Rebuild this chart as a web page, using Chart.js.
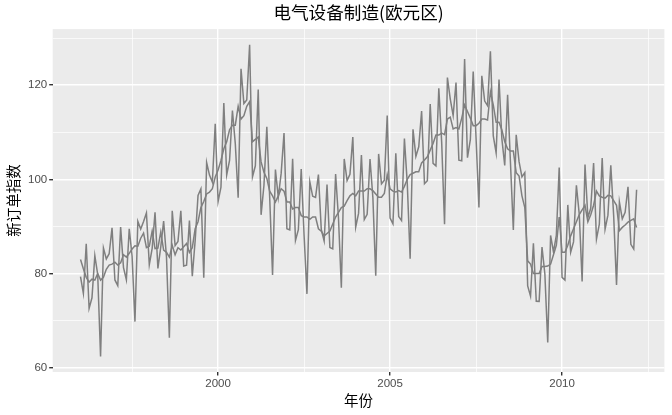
<!DOCTYPE html>
<html>
<head>
<meta charset="utf-8">
<script src="https://cdn.jsdelivr.net/npm/chart.js@4.4.1/dist/chart.umd.min.js"></script>
<style>
  html, body { margin: 0; padding: 0; background: #ffffff; }
  #wrap { width: 672px; height: 415px; position: relative; }
</style>
</head>
<body>
<div id="wrap"><canvas id="c" width="672" height="415"></canvas></div>
<script>
// ---- data ----
const startYear = 1996;           // first observation: Jan 1996, monthly
const titleText = "电气设备制造(欧元区)";
const xTitle = "年份";
const yTitle = "新订单指数";
const xMajorTicks = [2000, 2005, 2010];
const xMinorTicks = [1997.5, 2002.5, 2007.5, 2012.5];
const yMajorTicks = [60, 80, 100, 120];
const yMinorTicks = [70, 90, 110, 130];

// original series (new orders index)
const orders = [
  79.35, 75.78, 86.32, 72.60, 74.86, 83.81, 79.80, 62.41, 85.41, 83.11, 84.21, 89.70,
  78.64, 77.42, 89.86, 81.27, 78.68, 89.51, 83.67, 69.80, 91.09, 89.43, 91.04, 92.87,
  81.87, 85.36, 92.98, 81.09, 85.64, 91.14, 83.46, 66.37, 93.34, 85.93, 86.81, 93.30,
  81.59, 81.77, 91.24, 79.45, 86.99, 96.60, 97.99, 79.13, 103.56, 100.89, 99.40, 111.80,
  95.28, 98.35, 116.21, 100.94, 104.01, 114.62, 107.58, 96.09, 123.46, 116.09, 116.84, 128.58,
  100.54, 102.88, 119.08, 92.46, 98.75, 111.14, 96.13, 79.72, 102.07, 96.18, 101.26, 109.85,
  89.52, 89.27, 104.35, 87.05, 89.33, 102.20, 88.13, 75.68, 99.48, 96.40, 96.16, 101.00,
  89.34, 86.91, 98.90, 85.54, 85.25, 101.14, 91.80, 76.98, 104.33, 99.72, 101.06, 109.00,
  89.83, 92.77, 105.18, 91.45, 92.56, 104.30, 96.12, 79.55, 105.40, 99.04, 99.82, 113.53,
  91.79, 90.55, 105.54, 92.11, 91.24, 108.64, 99.09, 83.15, 110.62, 104.87, 106.92, 114.50,
  99.08, 99.71, 115.99, 103.38, 102.86, 119.31, 107.84, 90.47, 121.61, 117.03, 113.54, 120.53,
  104.06, 103.94, 125.52, 104.61, 108.41, 122.91, 108.70, 94.04, 121.99, 116.62, 115.65, 127.16,
  109.24, 105.61, 121.17, 108.59, 102.94, 117.95, 103.48, 89.26, 109.47, 103.76, 100.52, 101.43,
  77.38, 75.19, 86.40, 74.13, 74.10, 85.61, 79.90, 65.36, 88.09, 84.60, 88.09, 102.52,
  79.18, 78.63, 94.57, 84.51, 86.72, 98.73, 92.59, 78.34, 103.13, 91.87, 93.86, 103.46,
  87.3, 90.5, 104.5, 89.4, 92.4, 103.0, 92.3, 77.6, 95.2, 91.6, 93.0, 98.4,
  86.2, 85.2, 97.8
];

// seasonally adjusted series
const adjusted = [
  83.0, 81.0, 79.2, 78.2, 78.8, 78.6, 80.0, 78.6, 79.2, 80.9, 81.8, 82.0,
  82.4, 81.8, 82.3, 84.0, 83.5, 84.3, 85.2, 85.9, 85.8, 87.5, 88.6, 85.5,
  85.8, 89.0, 85.3, 85.4, 88.8, 85.0, 84.5, 83.5, 86.0, 84.0, 85.5, 85.0,
  85.7, 86.4, 84.5, 85.5, 89.5, 91.0, 94.0, 95.3, 96.9, 97.3, 98.0, 100.5,
  102.0, 104.0, 106.5, 108.0, 110.5, 111.5, 111.5, 115.5, 112.8, 113.5, 115.5, 116.5,
  108.0, 108.5, 109.0, 103.7, 101.5, 100.2, 97.5, 96.5, 95.2, 96.5, 98.0, 97.5,
  95.2, 95.2, 93.7, 94.0, 94.0, 92.3, 92.0, 92.0, 91.5, 92.0, 92.0, 89.5,
  89.0, 88.0, 88.5, 89.0, 90.5, 92.0, 93.0, 94.0, 94.3, 95.5, 96.5, 97.0,
  96.5, 97.5, 97.5, 97.5, 98.0, 98.0, 97.6, 96.9, 96.2, 96.2, 97.0, 101.0,
  98.0, 97.5, 97.3, 97.6, 97.3, 98.5, 100.0, 101.0, 101.3, 101.6, 101.6, 103.5,
  104.1, 104.8, 106.2, 107.6, 109.4, 109.4, 109.8, 109.5, 112.8, 113.2, 110.7, 111.0,
  110.7, 113.0, 115.8, 114.4, 113.0, 111.4, 111.4, 111.9, 112.8, 112.8, 112.6, 118.6,
  115.8, 112.1, 112.1, 110.5, 108.0, 106.5, 106.0, 106.0, 101.4, 100.7, 96.5, 94.0,
  82.7, 82.0, 80.0, 80.0, 80.0, 81.5, 81.5, 81.6, 82.0, 84.0, 86.0, 92.0,
  84.5, 84.5, 86.0, 88.0, 89.5, 91.0, 92.5, 93.5, 94.5, 91.0, 92.5, 94.5,
  97.5, 96.5, 96.2, 96.0, 96.6, 96.5, 95.5, 94.5, 89.1, 89.8, 90.3, 90.9,
  91.3, 91.6, 89.8
];

// ---- build ----
const toPoints = arr => arr.map((v, i) => ({ x: startYear + i / 12, y: v }));
const allVals = orders.concat(adjusted);
const xFirst = startYear, xLast = startYear + (orders.length - 1) / 12;
const yLo = Math.min(...allVals), yHi = Math.max(...allVals);
const xPad = (xLast - xFirst) * 0.05, yPad = (yHi - yLo) * 0.05;

const lineColor = '#7f7f7f';
const fontLatin = "'Liberation Sans', 'Noto Sans CJK SC', sans-serif";
const fontCJK = "'Noto Sans CJK SC', 'Liberation Sans', sans-serif";

const panelBg = {
  id: 'panelBg',
  beforeDraw(chart) {
    const { ctx, chartArea: a } = chart;
    ctx.save();
    ctx.fillStyle = '#ebebeb';
    ctx.fillRect(a.left, a.top, a.right - a.left, a.bottom - a.top);
    ctx.restore();
  }
};

const isMajor = (list, v) => list.some(t => Math.abs(t - v) < 1e-6);

new Chart(document.getElementById('c'), {
  type: 'line',
  data: {
    datasets: [
      { label: '数据', data: toPoints(orders), borderColor: lineColor, borderWidth: 1.5,
        pointRadius: 0, tension: 0, fill: false },
      { label: '季节调整', data: toPoints(adjusted), borderColor: lineColor, borderWidth: 1.5,
        pointRadius: 0, tension: 0, fill: false }
    ]
  },
  options: {
    responsive: false,
    animation: false,
    events: [],
    layout: { padding: { left: 0, right: 7.6, top: 0, bottom: 0 } },
    plugins: {
      legend: { display: false },
      tooltip: { enabled: false },
      title: {
        display: true, text: titleText, fullSize: false,
        color: '#000000', font: { family: fontCJK, size: 17.6, weight: 'normal' },
        padding: { top: 2, bottom: 6 }
      }
    },
    scales: {
      x: {
        type: 'linear',
        min: xFirst - xPad, max: xLast + xPad,
        afterBuildTicks: s => { s.ticks = xMajorTicks.concat(xMinorTicks).map(v => ({ value: v })); },
        afterFit: s => { s.height = 43; },
        ticks: {
          autoSkip: false, maxRotation: 0, padding: 1,
          color: '#4d4d4d', font: { family: fontLatin, size: 11.5 },
          callback: v => isMajor(xMajorTicks, v) ? String(v) : ''
        },
        grid: {
          color: '#ffffff',
          lineWidth: c => (c.tick && isMajor(xMajorTicks, c.tick.value)) ? 1.4 : 0.7,
          tickColor: c => (c.tick && isMajor(xMajorTicks, c.tick.value)) ? '#333333' : 'rgba(0,0,0,0)',
          tickLength: 3.5, drawTicks: true
        },
        border: { display: false },
        title: { display: true, text: xTitle, color: '#000000',
                 font: { family: fontCJK, size: 14.5 }, padding: { top: 0, bottom: 5.5 } }
      },
      y: {
        type: 'linear',
        min: yLo - yPad, max: yHi + yPad,
        afterBuildTicks: s => { s.ticks = yMajorTicks.concat(yMinorTicks).map(v => ({ value: v })); },
        afterFit: s => { s.width = 52.7; },
        ticks: {
          autoSkip: false, padding: 2,
          color: '#4d4d4d', font: { family: fontLatin, size: 11.5 },
          callback: v => isMajor(yMajorTicks, v) ? String(v) : ''
        },
        grid: {
          color: '#ffffff',
          lineWidth: c => (c.tick && isMajor(yMajorTicks, c.tick.value)) ? 1.4 : 0.7,
          tickColor: c => (c.tick && isMajor(yMajorTicks, c.tick.value)) ? '#333333' : 'rgba(0,0,0,0)',
          tickLength: 3.5, drawTicks: true
        },
        border: { display: false },
        title: { display: true, text: yTitle, color: '#000000',
                 font: { family: fontCJK, size: 14.5 }, padding: { top: 4.5, bottom: 0 } }
      }
    }
  },
  plugins: [panelBg]
});
</script>
</body>
</html>
